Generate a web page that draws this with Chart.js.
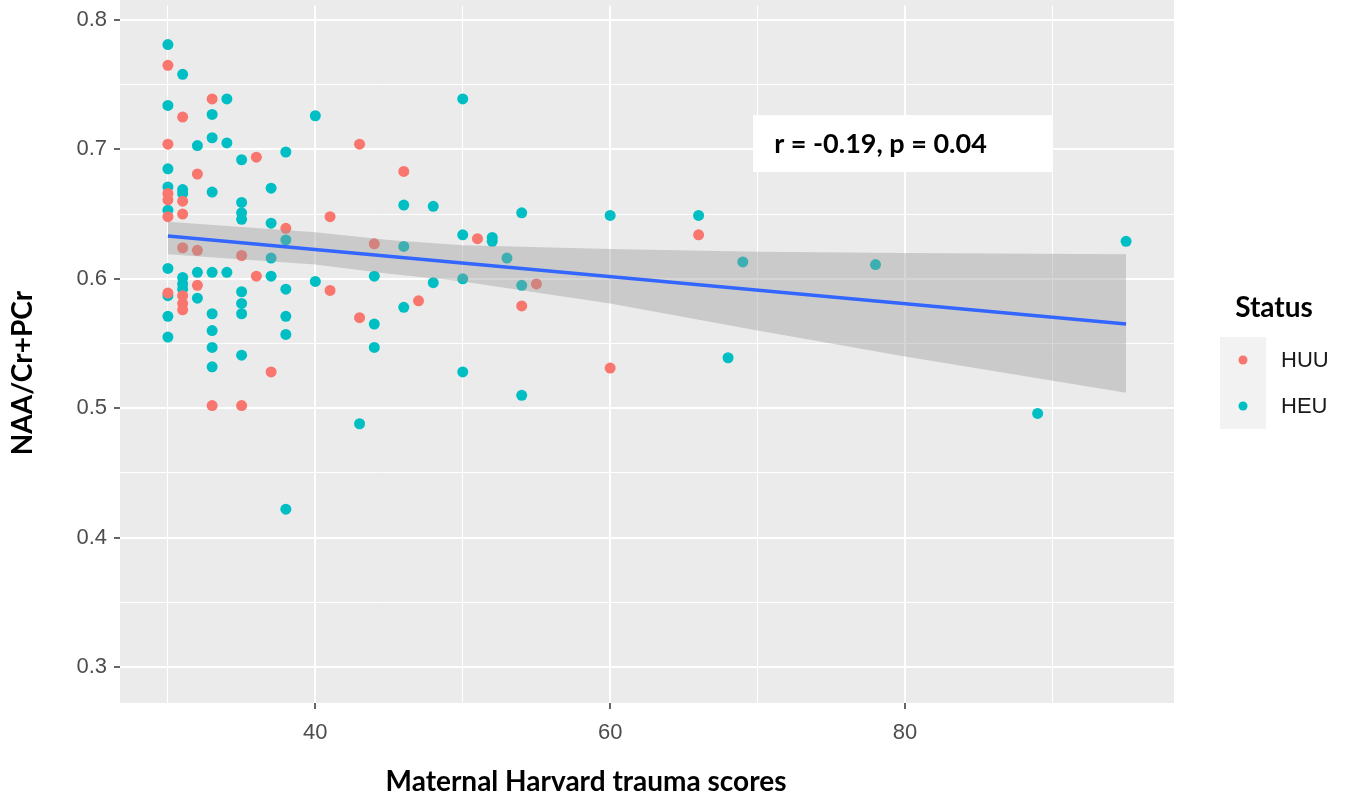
<!DOCTYPE html>
<html>
<head>
<meta charset="utf-8">
<script src="https://cdn.jsdelivr.net/npm/chart.js@4.4.1/dist/chart.umd.min.js"></script>
<style>
  html, body { margin: 0; padding: 0; background: #ffffff; }
  #caixa { width: 1352px; height: 796px; }
</style>
</head>
<body>
<div id="caixa"><canvas id="grafico" width="1352" height="796"></canvas></div>
<script>
// HUU group (x = maternal Harvard trauma score, y = NAA/Cr+PCr)
const huuX = [30, 30, 30, 30, 30, 30,
  31, 31, 31, 31, 31, 31, 31,
  32, 32, 32, 33, 33, 35, 35, 36, 36, 37, 38,
  41, 41, 43, 43, 44, 46, 47, 51, 54, 55, 60, 66];
const huuY = [0.765, 0.704, 0.666, 0.661, 0.648, 0.589,
  0.725, 0.660, 0.650, 0.624, 0.587, 0.581, 0.576,
  0.681, 0.622, 0.595, 0.739, 0.502, 0.618, 0.502, 0.694, 0.602, 0.528, 0.639,
  0.648, 0.591, 0.704, 0.570, 0.627, 0.683, 0.583, 0.631, 0.579, 0.596, 0.531, 0.634];

// HEU group
const heuX = [30, 30, 30, 30, 30, 30, 30, 30, 30,
  31, 31, 31, 31, 31, 31,
  32, 32, 32,
  33, 33, 33, 33, 33, 33, 33, 33,
  34, 34, 34,
  35, 35, 35, 35, 35, 35, 35, 35,
  37, 37, 37, 37,
  38, 38, 38, 38, 38, 38,
  40, 40, 43, 44, 44, 44, 46, 46, 46, 48, 48,
  50, 50, 50, 50, 52, 52, 53, 54, 54, 54,
  60, 66, 68, 69, 78, 89, 95];
const heuY = [0.781, 0.734, 0.685, 0.671, 0.653, 0.608, 0.587, 0.571, 0.555,
  0.758, 0.669, 0.666, 0.601, 0.596, 0.592,
  0.703, 0.605, 0.585,
  0.727, 0.709, 0.667, 0.605, 0.573, 0.560, 0.547, 0.532,
  0.739, 0.705, 0.605,
  0.692, 0.659, 0.651, 0.646, 0.590, 0.581, 0.573, 0.541,
  0.670, 0.643, 0.616, 0.602,
  0.698, 0.630, 0.592, 0.571, 0.557, 0.422,
  0.726, 0.598, 0.488, 0.602, 0.565, 0.547, 0.657, 0.625, 0.578, 0.656, 0.597,
  0.739, 0.634, 0.600, 0.528, 0.632, 0.629, 0.616, 0.651, 0.595, 0.510,
  0.649, 0.649, 0.539, 0.613, 0.611, 0.496, 0.629];

// linear fit and its confidence band
const fitX = [30, 95];
const fitY = [0.633, 0.565];
const bandX = [30, 40, 45, 50, 60, 70, 80, 95];
const bandUpper = [0.644, 0.636, 0.630, 0.626, 0.623, 0.621, 0.620, 0.619];
const bandLower = [0.619, 0.611, 0.604, 0.598, 0.581, 0.560, 0.540, 0.512];

// axes
const xGrid = [30, 40, 50, 60, 70, 80, 90];
const xLabels = [40, 60, 80];
const yGrid = [0.3, 0.35, 0.4, 0.45, 0.5, 0.55, 0.6, 0.65, 0.7, 0.75, 0.8];
const yLabels = [0.3, 0.4, 0.5, 0.6, 0.7, 0.8];

const grupos = ["HUU", "HEU"];
const coresGrupos = ["#F8766D", "#00BFC4"];
const textoCorrelacao = "r = -0.19, p = 0.04";

function junta(xs, ys) {
  return xs.map((x, i) => ({ x: x, y: ys[i] }));
}

function ehRotulo(lista, v) {
  return lista.some((l) => Math.abs(l - v) < 1e-6);
}

// fundo cinza do painel (vai ate o topo da imagem, como no original recortado)
const fundoPainel = {
  id: "fundoPainel",
  beforeDraw(chart) {
    const { ctx, chartArea: a } = chart;
    ctx.save();
    ctx.fillStyle = "#EBEBEB";
    ctx.fillRect(a.left, 0, a.right - a.left, a.bottom);
    ctx.restore();
  },
};

const textos = {
  id: "textos",
  afterDraw(chart) {
    const ctx = chart.ctx;
    const sx = chart.scales.x;
    const sy = chart.scales.y;
    ctx.save();

    // caixa da correlacao
    const bx0 = sx.getPixelForValue(69.7);
    const bx1 = sx.getPixelForValue(90.0);
    const by0 = sy.getPixelForValue(0.7265);
    const by1 = sy.getPixelForValue(0.6825);
    ctx.fillStyle = "#FFFFFF";
    ctx.fillRect(bx0, by0, bx1 - bx0, by1 - by0);
    ctx.fillStyle = "#000000";
    ctx.font = "bold 27px Lato";
    ctx.textAlign = "left";
    ctx.textBaseline = "middle";
    ctx.fillText(textoCorrelacao, bx0 + 21, (by0 + by1) / 2 + 1);

    // titulos dos eixos
    ctx.textAlign = "center";
    ctx.font = "bold 28px Lato";
    ctx.fillText("Maternal Harvard trauma scores", 586, 782);
    ctx.save();
    ctx.translate(23, 373);
    ctx.rotate(-Math.PI / 2);
    ctx.fillText("NAA/Cr+PCr", 0, 0);
    ctx.restore();

    // legenda
    ctx.fillText("Status", 1274, 308);
    ctx.fillStyle = "#F2F2F2";
    ctx.fillRect(1220, 337, 46, 92);
    ctx.font = "22px 'Liberation Sans'";
    ctx.textAlign = "left";
    for (let i = 0; i < grupos.length; i++) {
      const cy = 360 + i * 46;
      ctx.fillStyle = coresGrupos[i];
      ctx.beginPath();
      ctx.arc(1243, cy, 4.5, 0, Math.PI * 2);
      ctx.fill();
      ctx.fillStyle = "#1A1A1A";
      ctx.fillText(grupos[i], 1281, cy + 1);
    }
    ctx.restore();
  },
};

const ctx = document.getElementById("grafico");
window.meuGrafico = new Chart(ctx, {
  type: "scatter",
  data: {
    datasets: [
      {
        label: "ajuste",
        data: junta(fitX, fitY),
        showLine: true,
        borderColor: "#3366FF",
        borderWidth: 3.5,
        pointRadius: 0,
        fill: false,
      },
      {
        label: "banda sup",
        data: junta(bandX, bandUpper),
        showLine: true,
        borderWidth: 0,
        borderColor: "rgba(0,0,0,0)",
        pointRadius: 0,
        fill: false,
      },
      {
        label: "banda inf",
        data: junta(bandX, bandLower),
        showLine: true,
        borderWidth: 0,
        borderColor: "rgba(0,0,0,0)",
        pointRadius: 0,
        fill: "-1",
        backgroundColor: "rgba(153,153,153,0.4)",
      },
      {
        label: grupos[0],
        data: junta(huuX, huuY),
        backgroundColor: coresGrupos[0],
        pointRadius: 5.5,
        pointHoverRadius: 5.5,
        borderWidth: 0,
      },
      {
        label: grupos[1],
        data: junta(heuX, heuY),
        backgroundColor: coresGrupos[1],
        pointRadius: 5.5,
        pointHoverRadius: 5.5,
        borderWidth: 0,
      },
    ],
  },
  options: {
    responsive: false,
    devicePixelRatio: 1,
    animation: false,
    layout: { padding: { left: 0, right: 178, top: 0, bottom: 0 } },
    plugins: {
      legend: { display: false },
      tooltip: { enabled: false },
    },
    scales: {
      x: {
        type: "linear",
        min: 26.75,
        max: 98.25,
        afterBuildTicks: (s) => {
          s.ticks = xGrid.map((v) => ({ value: v }));
        },
        afterFit: (s) => {
          s.height = 93;
          s.paddingLeft = 0;
          s.paddingRight = 0;
        },
        border: { display: false },
        grid: {
          color: "#FFFFFF",
          lineWidth: (c) => (c.tick && ehRotulo(xLabels, c.tick.value) ? 2 : 1),
          tickColor: (c) => (c.tick && ehRotulo(xLabels, c.tick.value) ? "#333333" : "rgba(0,0,0,0)"),
          tickLength: 6,
          tickWidth: 1.5,
        },
        ticks: {
          autoSkip: false,
          maxRotation: 0,
          padding: 11,
          color: "#4D4D4D",
          font: { family: "Liberation Sans", size: 22 },
          callback: (v) => (ehRotulo(xLabels, v) ? String(v) : ""),
        },
      },
      y: {
        type: "linear",
        min: 0.2722,
        max: 0.8112,
        afterBuildTicks: (s) => {
          s.ticks = yGrid.map((v) => ({ value: v }));
        },
        afterFit: (s) => {
          s.width = 120;
          s.paddingTop = 0;
          s.paddingBottom = 0;
        },
        border: { display: false },
        grid: {
          color: "#FFFFFF",
          lineWidth: (c) => (c.tick && ehRotulo(yLabels, c.tick.value) ? 2 : 1),
          tickColor: (c) => (c.tick && ehRotulo(yLabels, c.tick.value) ? "#333333" : "rgba(0,0,0,0)"),
          tickLength: 6,
          tickWidth: 1.5,
        },
        ticks: {
          autoSkip: false,
          padding: 7,
          color: "#4D4D4D",
          font: { family: "Liberation Sans", size: 22 },
          callback: (v) => (ehRotulo(yLabels, v) ? v.toFixed(1) : ""),
        },
      },
    },
  },
  plugins: [fundoPainel, textos],
});
</script>
</body>
</html>
